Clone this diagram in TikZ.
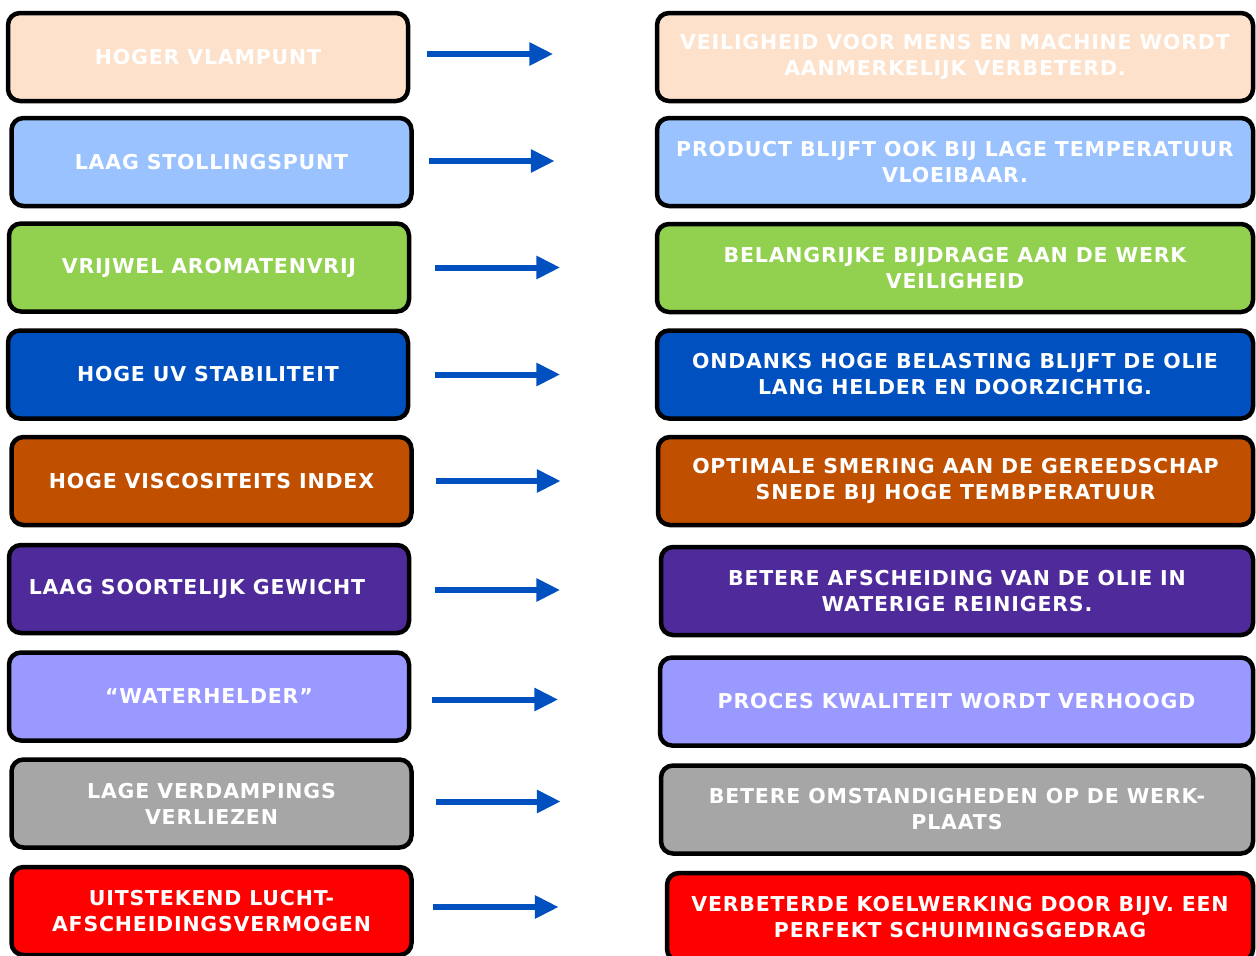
\documentclass[tikz,border=0pt]{standalone}
\usepackage{fontspec}
\setmainfont{DejaVu Sans}
\newfontfamily\vakfont[LetterSpace=4]{DejaVu Sans}
\usetikzlibrary{arrows.meta}
\definecolor{perzik}{HTML}{FDE1CB}
\definecolor{lichtblauw}{HTML}{99C2FF}
\definecolor{groen}{HTML}{92D050}
\definecolor{blauw}{HTML}{0050C0}
\definecolor{oranje}{HTML}{C05000}
\definecolor{paars}{HTML}{4F2A9A}
\definecolor{lila}{HTML}{9999FF}
\definecolor{grijs}{HTML}{A6A6A6}
\definecolor{rood}{HTML}{FF0000}
\definecolor{pijlblauw}{HTML}{0050C0}
\tikzset{
  vak/.style={draw=black, line width=4.5pt, rounded corners=12pt, text=white,
    font=\vakfont\bfseries\fontsize{20.5}{26}\selectfont, align=center, inner sep=0pt,
    minimum height=88pt},
  links/.style={vak, minimum width=400pt},
  rechts/.style={vak, minimum width=596pt},
  pijl/.style={draw=pijlblauw, line width=6pt, -{Triangle[length=24pt,width=22pt]}}
}
\begin{document}
\begin{tikzpicture}[x=1pt,y=-1pt]
                \useasboundingbox (0,0) rectangle (1256,956);
                \clip (0,0) rectangle (1256,956);
                % linker kolom
                \node[links, fill=perzik] (links1) at (208,57) {HOGER VLAMPUNT};
                \node[links, fill=lichtblauw] (links2) at (211.5,162) {LAAG STOLLINGSPUNT};
                \node[links, fill=groen] (links3) at (209,267.5) {VRIJWEL AROMATENVRIJ};
                \node[links, fill=blauw] (links4) at (208,374.5) {HOGE UV STABILITEIT};
                \node[links, fill=oranje] (links5) at (211.5,481) {HOGE VISCOSITEITS INDEX};
                \node[links, fill=paars] (links6) at (209,589) {\hspace*{-24pt}LAAG SOORTELIJK GEWICHT};
                \node[links, fill=lila] (links7) at (209,696.5) {“WATERHELDER”};
                \node[links, fill=grijs] (links8) at (211.5,803.5) {LAGE VERDAMPINGS\\VERLIEZEN};
                \node[links, fill=rood] (links9) at (211.5,911) {UITSTEKEND LUCHT-\\AFSCHEIDINGSVERMOGEN};
                % rechter kolom
                \node[rechts, fill=perzik] (rechts1) at (955,57) {VEILIGHEID VOOR MENS EN MACHINE WORDT\\AANMERKELIJK VERBETERD.};
                \node[rechts, fill=lichtblauw] (rechts2) at (955,162) {PRODUCT BLIJFT OOK BIJ LAGE TEMPERATUUR\\VLOEIBAAR.};
                \node[rechts, fill=groen] (rechts3) at (955,268) {BELANGRIJKE BIJDRAGE AAN DE WERK\\VEILIGHEID};
                \node[rechts, fill=blauw] (rechts4) at (955,374.5) {ONDANKS HOGE BELASTING BLIJFT DE OLIE\\LANG HELDER EN DOORZICHTIG.};
                \node[rechts, fill=oranje, minimum width=595pt] (rechts5) at (955.5,481) {OPTIMALE SMERING AAN DE GEREEDSCHAP\\SNEDE BIJ HOGE TEMBPERATUUR};
                \node[rechts, fill=paars, minimum width=592pt] (rechts6) at (957,591) {BETERE AFSCHEIDING VAN DE OLIE IN\\WATERIGE REINIGERS.};
                \node[rechts, fill=lila, minimum width=593pt] (rechts7) at (956.5,701.5) {PROCES KWALITEIT WORDT VERHOOGD};
                \node[rechts, fill=grijs, minimum width=592pt] (rechts8) at (957,809.5) {BETERE OMSTANDIGHEDEN OP DE WERK-\\PLAATS};
                \node[rechts, fill=rood, minimum width=586pt] (rechts9) at (960,917) {VERBETERDE KOELWERKING DOOR BIJV. EEN\\PERFEKT SCHUIMINGSGEDRAG};
                % pijlen
                \draw[pijl] ([xshift=17pt,yshift=3pt]links1.east) -- ([xshift=143pt,yshift=3pt]links1.east);
                \draw[pijl] ([xshift=15pt,yshift=1pt]links2.east) -- ([xshift=141pt,yshift=1pt]links2.east);
                \draw[pijl] ([xshift=24pt]links3.east) -- ([xshift=149pt]links3.east);
                \draw[pijl] ([xshift=25pt]links4.east) -- ([xshift=150pt]links4.east);
                \draw[pijl] ([xshift=22pt]links5.east) -- ([xshift=147pt]links5.east);
                \draw[pijl] ([xshift=24pt,yshift=-1pt]links6.east) -- ([xshift=149pt,yshift=-1pt]links6.east);
                \draw[pijl] ([xshift=21pt,yshift=-3pt]links7.east) -- ([xshift=147pt,yshift=-3pt]links7.east);
                \draw[pijl] ([xshift=22pt,yshift=2pt]links8.east) -- ([xshift=147pt,yshift=2pt]links8.east);
                \draw[pijl] ([xshift=19pt,yshift=4pt]links9.east) -- ([xshift=145pt,yshift=4pt]links9.east);
            \end{tikzpicture}
\end{document}
